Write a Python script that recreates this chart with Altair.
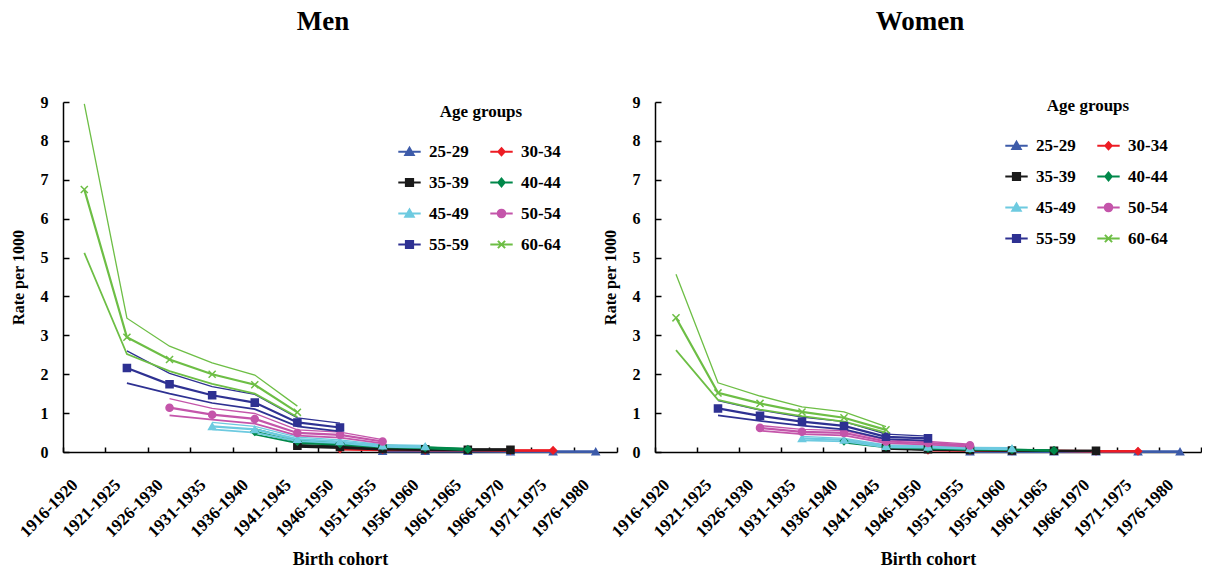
import altair as alt
import pandas as pd

FONT = "Liberation Serif"

COHORTS = ["1916-1920", "1921-1925", "1926-1930", "1931-1935", "1936-1940",
           "1941-1945", "1946-1950", "1951-1955", "1956-1960", "1961-1965",
           "1966-1970", "1971-1975", "1976-1980"]
GROUPS = ["25-29", "30-34", "35-39", "40-44", "45-49", "50-54", "55-59", "60-64"]
# first birth cohort observed for each age group
FIRST_COHORT = ["1951-1955", "1946-1950", "1941-1945", "1936-1940",
                "1931-1935", "1926-1930", "1921-1925", "1916-1920"]
COLORS = ["#3D5BA9", "#ED1C24", "#1A1A1A", "#00884A",
          "#6DCAE0", "#C455AA", "#2E3192", "#6DBE45"]

# ---------------- Men: rate, lower and upper limits ----------------
MEN_25_29 = [0.02, 0.02, 0.02, 0.01, 0.01, 0.01]
MEN_25_29_LO = [0.01, 0.01, 0.01, 0.00, 0.00, 0.00]
MEN_25_29_HI = [0.03, 0.03, 0.03, 0.02, 0.02, 0.02]
MEN_30_34 = [0.08, 0.06, 0.05, 0.05, 0.04, 0.04]
MEN_30_34_LO = [0.06, 0.04, 0.04, 0.04, 0.03, 0.03]
MEN_30_34_HI = [0.10, 0.08, 0.07, 0.06, 0.05, 0.05]
MEN_35_39 = [0.16, 0.13, 0.08, 0.07, 0.06, 0.06]
MEN_35_39_LO = [0.13, 0.10, 0.06, 0.05, 0.04, 0.04]
MEN_35_39_HI = [0.19, 0.16, 0.10, 0.09, 0.08, 0.08]
MEN_40_44 = [0.52, 0.27, 0.21, 0.15, 0.11, 0.07]
MEN_40_44_LO = [0.45, 0.23, 0.18, 0.12, 0.09, 0.05]
MEN_40_44_HI = [0.60, 0.31, 0.24, 0.18, 0.13, 0.09]
MEN_45_49 = [0.66, 0.58, 0.33, 0.27, 0.16, 0.14]
MEN_45_49_LO = [0.58, 0.50, 0.28, 0.23, 0.13, 0.11]
MEN_45_49_HI = [0.76, 0.66, 0.38, 0.31, 0.19, 0.17]
MEN_50_54 = [1.14, 0.96, 0.85, 0.49, 0.44, 0.27]
MEN_50_54_LO = [0.94, 0.83, 0.73, 0.42, 0.37, 0.22]
MEN_50_54_HI = [1.37, 1.12, 0.99, 0.57, 0.51, 0.32]
MEN_55_59 = [2.16, 1.74, 1.46, 1.27, 0.76, 0.63]
MEN_55_59_LO = [1.77, 1.50, 1.26, 1.10, 0.66, 0.53]
MEN_55_59_HI = [2.60, 2.02, 1.68, 1.48, 0.88, 0.74]
MEN_60_64 = [6.75, 2.95, 2.38, 2.00, 1.73, 1.02]
MEN_60_64_LO = [5.12, 2.52, 2.08, 1.75, 1.50, 0.90]
MEN_60_64_HI = [8.95, 3.44, 2.72, 2.29, 1.98, 1.18]

# ---------------- Women: rate, lower and upper limits ----------------
WOMEN_25_29 = [0.01, 0.01, 0.01, 0.01, 0.01, 0.01]
WOMEN_25_29_LO = [0.00, 0.00, 0.00, 0.00, 0.00, 0.00]
WOMEN_25_29_HI = [0.02, 0.02, 0.02, 0.02, 0.02, 0.02]
WOMEN_30_34 = [0.05, 0.04, 0.03, 0.03, 0.02, 0.02]
WOMEN_30_34_LO = [0.04, 0.03, 0.02, 0.02, 0.01, 0.01]
WOMEN_30_34_HI = [0.06, 0.05, 0.04, 0.04, 0.03, 0.03]
WOMEN_35_39 = [0.10, 0.07, 0.05, 0.04, 0.03, 0.03]
WOMEN_35_39_LO = [0.08, 0.05, 0.04, 0.03, 0.02, 0.02]
WOMEN_35_39_HI = [0.12, 0.09, 0.06, 0.05, 0.04, 0.04]
WOMEN_40_44 = [0.28, 0.14, 0.10, 0.07, 0.06, 0.04]
WOMEN_40_44_LO = [0.24, 0.12, 0.08, 0.06, 0.05, 0.03]
WOMEN_40_44_HI = [0.32, 0.16, 0.12, 0.08, 0.07, 0.05]
WOMEN_45_49 = [0.35, 0.31, 0.15, 0.13, 0.10, 0.09]
WOMEN_45_49_LO = [0.30, 0.27, 0.12, 0.11, 0.08, 0.07]
WOMEN_45_49_HI = [0.40, 0.35, 0.18, 0.15, 0.12, 0.11]
WOMEN_50_54 = [0.62, 0.52, 0.49, 0.27, 0.23, 0.17]
WOMEN_50_54_LO = [0.55, 0.46, 0.43, 0.23, 0.19, 0.14]
WOMEN_50_54_HI = [0.68, 0.58, 0.55, 0.31, 0.27, 0.20]
WOMEN_55_59 = [1.12, 0.93, 0.78, 0.67, 0.39, 0.35]
WOMEN_55_59_LO = [0.94, 0.80, 0.68, 0.58, 0.33, 0.29]
WOMEN_55_59_HI = [1.32, 1.08, 0.90, 0.78, 0.46, 0.41]
WOMEN_60_64 = [3.45, 1.52, 1.25, 1.03, 0.88, 0.57]
WOMEN_60_64_LO = [2.62, 1.34, 1.09, 0.92, 0.78, 0.50]
WOMEN_60_64_HI = [4.57, 1.78, 1.44, 1.16, 1.03, 0.65]

MEN = {
    "25-29": (MEN_25_29, MEN_25_29_LO, MEN_25_29_HI),
    "30-34": (MEN_30_34, MEN_30_34_LO, MEN_30_34_HI),
    "35-39": (MEN_35_39, MEN_35_39_LO, MEN_35_39_HI),
    "40-44": (MEN_40_44, MEN_40_44_LO, MEN_40_44_HI),
    "45-49": (MEN_45_49, MEN_45_49_LO, MEN_45_49_HI),
    "50-54": (MEN_50_54, MEN_50_54_LO, MEN_50_54_HI),
    "55-59": (MEN_55_59, MEN_55_59_LO, MEN_55_59_HI),
    "60-64": (MEN_60_64, MEN_60_64_LO, MEN_60_64_HI),
}
WOMEN = {
    "25-29": (WOMEN_25_29, WOMEN_25_29_LO, WOMEN_25_29_HI),
    "30-34": (WOMEN_30_34, WOMEN_30_34_LO, WOMEN_30_34_HI),
    "35-39": (WOMEN_35_39, WOMEN_35_39_LO, WOMEN_35_39_HI),
    "40-44": (WOMEN_40_44, WOMEN_40_44_LO, WOMEN_40_44_HI),
    "45-49": (WOMEN_45_49, WOMEN_45_49_LO, WOMEN_45_49_HI),
    "50-54": (WOMEN_50_54, WOMEN_50_54_LO, WOMEN_50_54_HI),
    "55-59": (WOMEN_55_59, WOMEN_55_59_LO, WOMEN_55_59_HI),
    "60-64": (WOMEN_60_64, WOMEN_60_64_LO, WOMEN_60_64_HI),
}

X_PATH = "M-1,-1L1,1M-1,1L1,-1"
POINT_SHAPES = ["triangle-up", "diamond", "square", "diamond",
                "triangle-up", "circle", "square", X_PATH]
LINE = "M-2.8,0H2.8"
LEGEND_SHAPES = [
    LINE + "M0,-1L1.05,0.8L-1.05,0.8Z",
    LINE + "M0,-0.9L0.8,0L0,0.9L-0.8,0Z",
    LINE + "M-0.9,-0.9H0.9V0.9H-0.9Z",
    LINE + "M0,-1L0.8,0L0,1L-0.8,0Z",
    LINE + "M0,-1L1.05,0.8L-1.05,0.8Z",
    LINE + "M0.95,0A0.95,0.95,0,1,1,-0.95,0A0.95,0.95,0,1,1,0.95,0Z",
    LINE + "M-0.9,-0.9H0.9V0.9H-0.9Z",
    LINE + "M-0.9,-0.9L0.9,0.9M-0.9,0.9L0.9,-0.9",
]


def tables(series):
    lines, points = [], []
    for g, first in zip(GROUPS, FIRST_COHORT):
        i0 = COHORTS.index(first)
        rate, lo, hi = series[g]
        for k in range(len(rate)):
            c = COHORTS[i0 + k]
            points.append({"group": g, "cohort": c, "value": rate[k]})
            lines.append({"group": g, "cohort": c, "kind": "est", "value": rate[k]})
            lines.append({"group": g, "cohort": c, "kind": "lo", "value": lo[k]})
            lines.append({"group": g, "cohort": c, "kind": "hi", "value": hi[k]})
    return pd.DataFrame(lines), pd.DataFrame(points)


def panel(title, series, W, H, title_dx, lx, ly):
    lines_df, points_df = tables(series)
    xscale = alt.Scale(type="band", domain=COHORTS, paddingInner=0, paddingOuter=0)
    yscale = alt.Scale(domain=[0, 9], nice=False, zero=True)
    cscale = alt.Scale(domain=GROUPS, range=COLORS)

    main = alt.Chart(lines_df).mark_line().encode(
        x=alt.X("cohort:N", sort=COHORTS, scale=xscale,
                axis=alt.Axis(orient="bottom", labelAngle=-45, ticks=False,
                              labelFontSize=17, labelPadding=30, labelOffset=-9,
                              labelAlign="right", labelBaseline="middle",
                              title="Birth cohort", titleFontSize=18,
                              titlePadding=11)),
        y=alt.Y("value:Q", scale=yscale,
                axis=alt.Axis(orient="left", values=list(range(10)), ticks=False,
                              labelFontSize=16, labelPadding=15,
                              title="Rate per 1000", titleFontSize=16,
                              titlePadding=14)),
        color=alt.Color("group:N", scale=cscale, legend=None),
        detail="kind:N",
        strokeWidth=alt.StrokeWidth("kind:N", scale=alt.Scale(domain=["est", "lo", "hi"],
                                                               range=[2.2, 1.3, 1.3]),
                                    legend=None),
    )

    pts = alt.Chart(points_df).mark_point(filled=True, size=50, strokeWidth=1.5, opacity=1).encode(
        x=alt.X("cohort:N", sort=COHORTS, scale=xscale,
                axis=alt.Axis(orient="top", offset=-H, labels=False, domain=False,
                              tickSize=5, bandPosition=1, tickExtra=True, title=None)),
        y=alt.Y("value:Q", scale=yscale,
                axis=alt.Axis(orient="right", offset=-W, labels=False, domain=False,
                              values=list(range(10)), tickSize=6, title=None)),
        color=alt.Color("group:N", scale=cscale, legend=None),
        stroke=alt.Stroke("group:N", scale=cscale, legend=None),
        shape=alt.Shape("group:N", scale=alt.Scale(domain=GROUPS, range=POINT_SHAPES), legend=None),
    )

    leg = alt.Legend(title="Age groups", orient="none", legendX=lx, legendY=ly,
                     direction="horizontal", columns=2)
    legend_layer = alt.Chart(points_df).mark_point(filled=True, size=64, opacity=0).encode(
        x=alt.X("cohort:N", sort=COHORTS, scale=xscale, axis=None),
        y=alt.Y("value:Q", scale=yscale, axis=None),
        color=alt.Color("group:N", scale=cscale, legend=leg),
        stroke=alt.Stroke("group:N", scale=cscale, legend=leg),
        shape=alt.Shape("group:N", scale=alt.Scale(domain=GROUPS, range=LEGEND_SHAPES), legend=leg),
    )

    return alt.layer(main, pts, legend_layer).resolve_scale(
        color="independent", stroke="independent", shape="independent"
    ).resolve_axis(x="independent", y="independent").properties(
        width=W, height=H,
        title=alt.TitleParams(title, anchor="middle", dx=title_dx, offset=58),
    )


men = panel("Men", MEN, 554, 350, -17, 338, 2)
women = panel("Women", WOMEN, 546, 350, -8, 353, -4)

chart = alt.hconcat(men, women, spacing=-16).properties(
    padding={"left": 10, "top": 8, "right": 0, "bottom": 0}
).configure_view(stroke=None).configure_axis(
    labelFont=FONT, titleFont=FONT, labelFontWeight="bold", titleFontWeight="bold",
    labelColor="black", titleColor="black", grid=False,
    domainColor="black", tickColor="black", domainWidth=1.5, tickWidth=1.5,
).configure_legend(
    titleFont=FONT, labelFont=FONT, titleFontSize=17, labelFontSize=17,
    titleFontWeight="bold", labelFontWeight="bold", titleColor="black", labelColor="black",
    symbolOpacity=1, symbolStrokeWidth=2, symbolSize=64, padding=0,
    rowPadding=13, columnPadding=17, labelOffset=11, titlePadding=22, titleAnchor="middle",
).configure_title(font=FONT, fontWeight="bold", fontSize=27, color="black")

chart.save("out.html", embed_options={"renderer": "svg", "actions": False})
